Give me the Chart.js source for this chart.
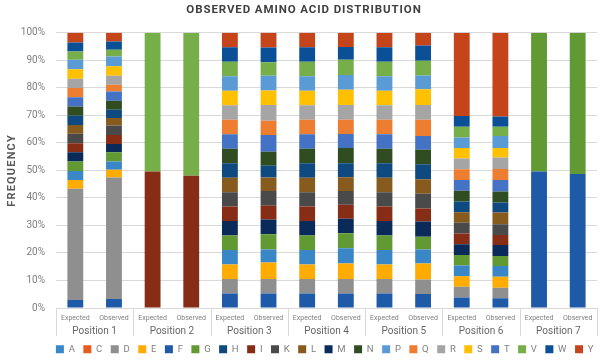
<!DOCTYPE html>
<html>
<head>
<meta charset="utf-8">
<title>Observed Amino Acid Distribution</title>
<script src="https://cdn.jsdelivr.net/npm/chart.js@4/dist/chart.umd.min.js"></script>
<style>
    body { margin: 0; background: #fff; }
    #wrap { width: 609px; height: 362px; position: relative; }
</style>
</head>
<body>
<div id="wrap"><canvas id="aminoChart"></canvas></div>
<script>
// columns: Position 1..7, each Expected then Observed
const positions = ['Position 1', 'Position 2', 'Position 3', 'Position 4', 'Position 5', 'Position 6', 'Position 7']
const sampleTypes = ['Expected', 'Observed']
const aminoAcids = ['A', 'C', 'D', 'E', 'F', 'G', 'H', 'I', 'K', 'L', 'M', 'N', 'P', 'Q', 'R', 'S', 'T', 'V', 'W', 'Y']
// order the segments are stacked in, bottom first
const stackOrder = ['F', 'D', 'E', 'A', 'G', 'M', 'I', 'K', 'L', 'H', 'N', 'T', 'Q', 'R', 'S', 'P', 'V', 'W', 'Y', 'C']

// frequencies in percent
const freqA = [3.3, 3.0, 0, 0, 5.26, 4.8, 5.26, 5.5, 5.26, 5.1, 3.9, 3.9, 0, 0]
const freqC = [0, 0, 0, 0, 0, 0, 0, 0, 0, 0, 0, 0, 0, 0]
const freqD = [40.4, 44.1, 0, 0, 5.26, 5.2, 5.26, 5.2, 5.26, 5.3, 3.9, 3.9, 0, 0]
const freqE = [3.2, 2.8, 0, 0, 5.26, 6.0, 5.26, 5.7, 5.26, 5.8, 3.8, 4.0, 0, 0]
const freqF = [2.9, 3.3, 0, 0, 5.26, 5.3, 5.26, 5.3, 5.26, 5.1, 3.8, 3.5, 49.6, 48.7]
const freqG = [3.4, 3.4, 0, 0, 5.26, 5.5, 5.26, 5.5, 5.26, 4.6, 3.9, 3.6, 50.4, 51.3]
const freqH = [3.4, 3.0, 0, 0, 5.26, 4.3, 5.26, 5.1, 5.26, 5.4, 3.9, 3.6, 0, 0]
const freqI = [3.3, 3.3, 49.6, 48.1, 5.26, 5.0, 5.26, 5.1, 5.26, 4.8, 3.9, 3.6, 0, 0]
const freqK = [3.4, 3.4, 0, 0, 5.26, 5.3, 5.26, 5.0, 5.26, 5.3, 3.9, 3.9, 0, 0]
const freqL = [3.2, 2.7, 0, 0, 5.26, 4.9, 5.26, 5.0, 5.26, 5.3, 3.8, 4.3, 0, 0]
const freqM = [3.4, 3.0, 0, 0, 5.26, 5.4, 5.26, 5.2, 5.26, 5.5, 3.9, 4.0, 0, 0]
const freqN = [3.3, 3.3, 0, 0, 5.26, 5.1, 5.26, 5.5, 5.26, 5.3, 3.9, 4.0, 0, 0]
const freqP = [3.4, 3.6, 0, 0, 5.26, 5.4, 5.26, 5.4, 5.26, 5.0, 3.9, 4.4, 0, 0]
const freqQ = [3.3, 2.4, 0, 0, 5.26, 5.1, 5.26, 5.2, 5.26, 5.9, 3.9, 4.0, 0, 0]
const freqR = [3.4, 3.3, 0, 0, 5.26, 5.8, 5.26, 5.4, 5.26, 5.4, 3.9, 4.2, 0, 0]
const freqS = [3.5, 3.4, 0, 0, 5.26, 5.2, 5.26, 5.5, 5.26, 5.7, 3.8, 3.4, 0, 0]
const freqT = [3.4, 3.4, 0, 0, 5.26, 6.1, 5.26, 5.1, 5.26, 5.0, 3.9, 4.2, 0, 0]
const freqV = [3.0, 2.4, 50.4, 51.9, 5.26, 4.9, 5.26, 5.5, 5.26, 5.3, 3.9, 3.4, 0, 0]
const freqW = [3.3, 3.0, 0, 0, 5.26, 5.4, 5.26, 4.6, 5.26, 5.6, 3.9, 3.7, 0, 0]
const freqY = [3.5, 3.2, 0, 0, 5.26, 5.3, 5.26, 5.2, 5.26, 4.6, 30.2, 30.4, 0, 0]

const yTicks = [0, 10, 20, 30, 40, 50, 60, 70, 80, 90, 100]

const colors = {
    A: '#3a87c8', C: '#e65c1e', D: '#8f8f8f', E: '#ffab00', F: '#1f5aa8',
    G: '#619a33', H: '#0e4a80', I: '#872d16', K: '#4a4a4a', L: '#875a1e',
    M: '#0a2a5a', N: '#2f4d20', P: '#5b9bd5', Q: '#ed7d31', R: '#a5a5a5',
    S: '#ffc000', T: '#4472c4', V: '#76af4a', W: '#0b4f96', Y: '#c5441a'
}

const freqs = {
    A: freqA, C: freqC, D: freqD, E: freqE, F: freqF, G: freqG, H: freqH,
    I: freqI, K: freqK, L: freqL, M: freqM, N: freqN, P: freqP, Q: freqQ,
    R: freqR, S: freqS, T: freqT, V: freqV, W: freqW, Y: freqY
}

// 100% stacked: scale each column to sum to 100
let columnTotals = []
for (let i = 0; i < freqA.length; i++) {
    let sum = 0
    aminoAcids.forEach(aa => { sum += freqs[aa][i] })
    columnTotals.push(sum)
}

let columnLabels = []
positions.forEach(() => { sampleTypes.forEach(s => columnLabels.push(s)) })

let datasets = stackOrder.map(aa => ({
    label: aa,
    data: freqs[aa].map((v, i) => v / columnTotals[i] * 100),
    backgroundColor: colors[aa],
    borderWidth: 0,
    barPercentage: 0.41,
    categoryPercentage: 1.0
}))

const fontFamily = 'Roboto, "DejaVu Sans", sans-serif'
const gridColor = '#d9d9d9'

// vertical separators between the position groups, through both label rows
const groupSeparators = {
    id: 'groupSeparators',
    afterDraw(chart) {
        const xs = chart.scales.x
        const x2 = chart.scales.x2
        const c = chart.ctx
        const step = x2.width / positions.length
        c.save()
        c.strokeStyle = gridColor
        c.lineWidth = 1
        for (let i = 0; i <= positions.length; i++) {
            const px = Math.round(x2.left + i * step) + 0.5
            c.beginPath()
            c.moveTo(px, xs.top)
            c.lineTo(px, x2.bottom)
            c.stroke()
        }
        c.restore()
    }
}

let ctx = document.getElementById('aminoChart').getContext('2d')

let aminoChart = new Chart(ctx, {
    type: 'bar',
    data: {
        labels: columnLabels,
        datasets: datasets
    },
    plugins: [groupSeparators],
    options: {
        responsive: true,
        maintainAspectRatio: false,
        animation: false,
        layout: {
            padding: { left: 6, right: 7, top: 0, bottom: 0 }
        },
        plugins: {
            title: {
                display: true,
                text: 'OBSERVED AMINO ACID DISTRIBUTION',
                color: '#404040',
                font: { family: fontFamily, size: 11.5, weight: 'bold' },
                padding: { top: 3, bottom: 16 }
            },
            legend: {
                position: 'bottom',
                align: 'end',
                maxHeight: 26,
                labels: {
                    boxWidth: 8,
                    boxHeight: 8,
                    padding: 8.5,
                    color: '#7f7f7f',
                    font: { family: fontFamily, size: 9.5 },
                    sort: (a, b) => a.text.localeCompare(b.text)
                }
            },
            tooltip: { enabled: false }
        },
        scales: {
            x: {
                type: 'category',
                stacked: true,
                weight: 0,
                grid: { display: false, drawTicks: false },
                border: { display: true, color: gridColor },
                afterFit: (axis) => { axis.height = 15 },
                ticks: {
                    autoSkip: false,
                    maxRotation: 0,
                    padding: 6,
                    color: '#7f7f7f',
                    font: { family: fontFamily, size: 7 }
                }
            },
            x2: {
                type: 'category',
                position: 'bottom',
                weight: 1,
                labels: positions,
                offset: true,
                grid: { display: false, drawTicks: false },
                border: { display: false },
                afterFit: (axis) => { axis.height = 13 },
                ticks: {
                    padding: 2,
                    color: '#666666',
                    font: { family: fontFamily, size: 10 }
                }
            },
            y: {
                stacked: true,
                min: 0,
                max: 100,
                afterBuildTicks: (axis) => { axis.ticks = yTicks.map(v => ({ value: v })) },
                afterFit: (axis) => { axis.width = 50 },
                grid: { color: gridColor, drawTicks: false },
                border: { display: false },
                title: {
                    display: true,
                    text: 'FREQUENCY',
                    color: '#595959',
                    font: { family: fontFamily, size: 11, weight: 'bold' },
                    padding: { top: 0, bottom: 0 }
                },
                ticks: {
                    padding: 11,
                    color: '#7f7f7f',
                    font: { family: fontFamily, size: 10 },
                    callback: (v) => v + '%'
                }
            },
            // empty right margin so the plot stops where the original does
            yRight: {
                position: 'right',
                display: true,
                grid: { display: false, drawTicks: false },
                border: { display: false },
                ticks: { display: false },
                afterFit: (axis) => { axis.width = 5 }
            }
        }
    }
})

// spread the letters of the titles a little, like the original
const titleDraw = aminoChart.titleBlock.draw.bind(aminoChart.titleBlock)
aminoChart.titleBlock.draw = function () {
    ctx.save()
    ctx.letterSpacing = '0.9px'
    titleDraw()
    ctx.restore()
}
const yTitleDraw = aminoChart.scales.y.drawTitle.bind(aminoChart.scales.y)
aminoChart.scales.y.drawTitle = function () {
    ctx.save()
    ctx.letterSpacing = '1.2px'
    yTitleDraw()
    ctx.restore()
}
aminoChart.draw()
</script>
</body>
</html>
